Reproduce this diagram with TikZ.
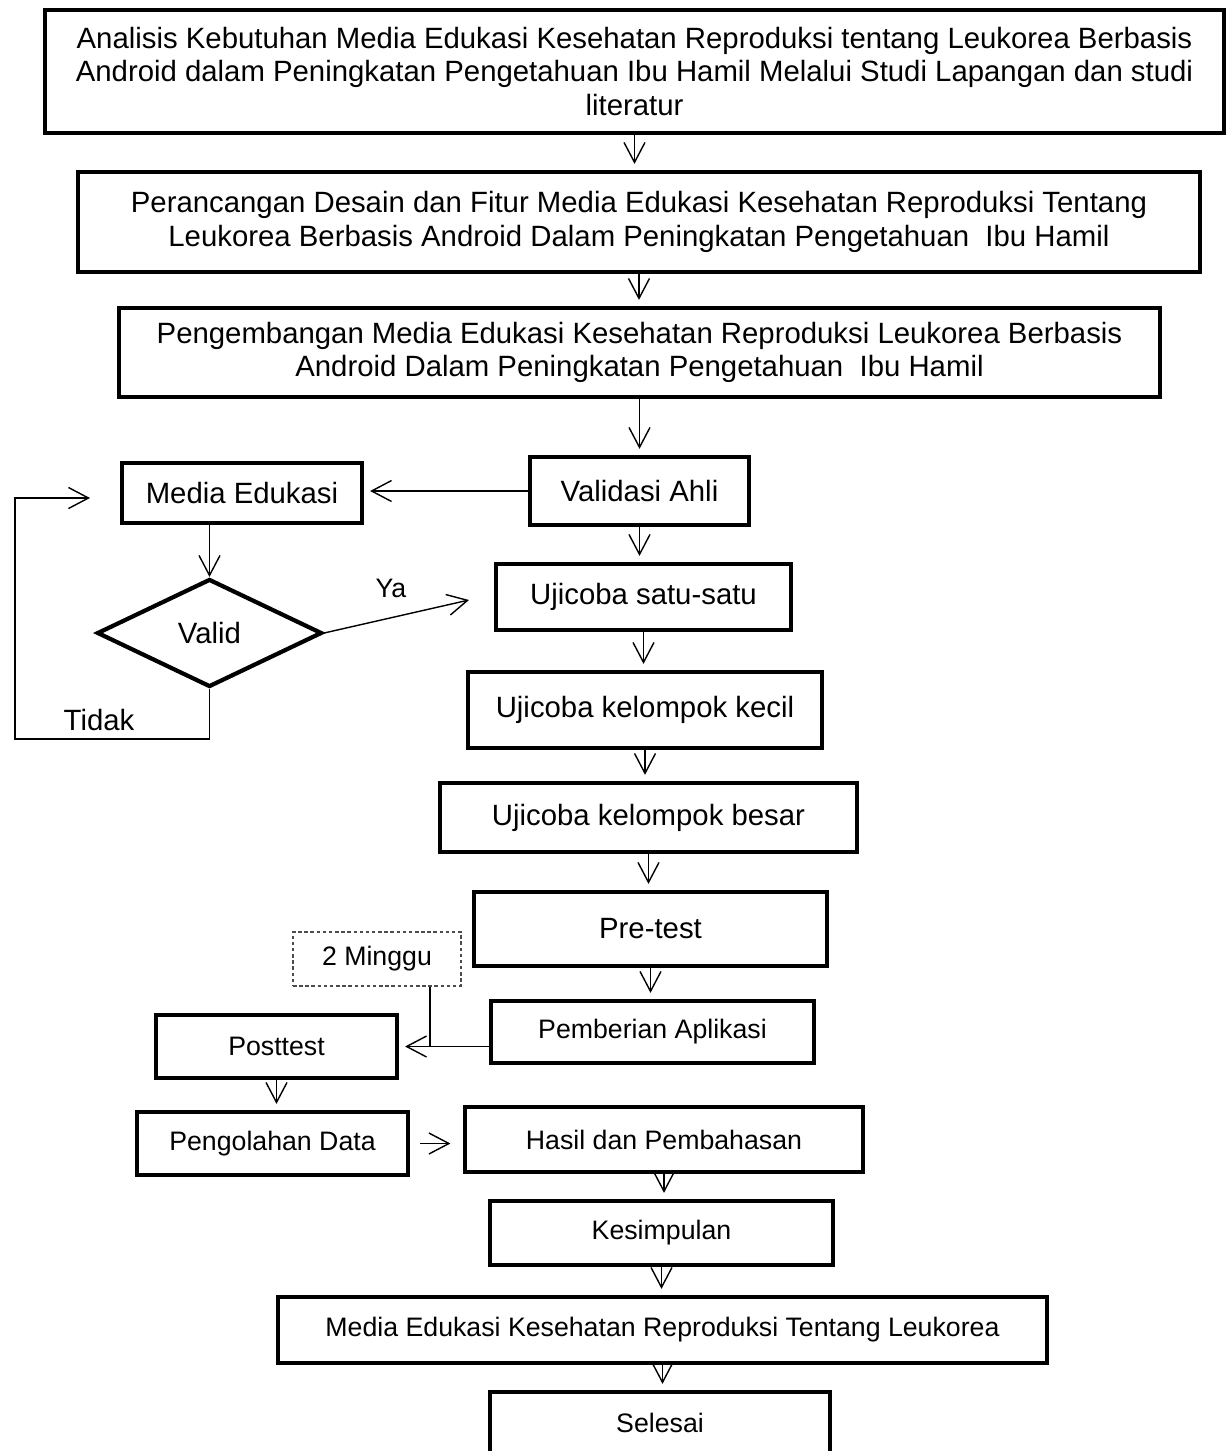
\documentclass[tikz,border=0pt]{standalone}
\usepackage{fontspec}
\setmainfont{Liberation Sans}
\usepackage{tikz}
\usetikzlibrary{arrows.meta,positioning,calc,shapes.geometric}

\begin{document}
\begin{tikzpicture}[x=0.02cm,y=-0.02cm,
  box/.style={draw,line width=2.4pt,align=center,inner sep=0pt,font=\fontsize{16.7}{19.2}\selectfont},
  smallbox/.style={box,font=\fontsize{15.2}{18}\selectfont},
  arr/.style={line width=0.8pt,-{Straight Barb[length=4mm,width=4.2mm]},shorten >=1.2mm}]
\useasboundingbox (0,0) rectangle (1227,1451);
\clip (0,0) rectangle (1227,1451);

% main column
\node[box,minimum width=23.58cm,minimum height=2.46cm] (ana) at (634.5,71.5) {Analisis Kebutuhan Media Edukasi Kesehatan Reproduksi tentang Leukorea Berbasis\\Android dalam Peningkatan Pengetahuan Ibu Hamil Melalui Studi Lapangan dan studi\\literatur};
\node[box,minimum width=22.44cm,minimum height=2.0cm] (desain) at (639,222) {Perancangan Desain dan Fitur Media Edukasi Kesehatan Reproduksi Tentang\\Leukorea Berbasis Android Dalam Peningkatan Pengetahuan \ Ibu Hamil};
\node[box,minimum width=20.82cm,minimum height=1.78cm] (kembang) at (639.5,352.5) {Pengembangan Media Edukasi Kesehatan Reproduksi Leukorea Berbasis\\Android Dalam Peningkatan Pengetahuan \ Ibu Hamil};
\node[box,minimum width=4.38cm,minimum height=1.36cm] (validasi) at (639.5,491) {Validasi Ahli};
\node[box,minimum width=5.9cm,minimum height=1.32cm] (satu) at (643.5,597) {Ujicoba satu-satu};
\node[box,minimum width=7.08cm,minimum height=1.52cm] (kecil) at (645,710) {Ujicoba kelompok kecil};
\node[box,minimum width=8.34cm,minimum height=1.38cm] (besar) at (648.5,817.5) {Ujicoba kelompok besar};
\node[box,minimum width=7.06cm,minimum height=1.48cm] (pre) at (650.5,929) {Pre-test};
\node[smallbox,minimum width=6.46cm,minimum height=1.24cm] (beri) at (652.5,1032) {Pemberian Aplikasi};
\node[smallbox,minimum width=7.96cm,minimum height=1.3cm] (hasil) at (664,1139.5) {Hasil dan Pembahasan};
\node[smallbox,minimum width=6.86cm,minimum height=1.28cm] (simpul) at (661.5,1233) {Kesimpulan};
\node[smallbox,minimum width=15.38cm,minimum height=1.32cm] (produk) at (662.5,1330) {Media Edukasi Kesehatan Reproduksi Tentang Leukorea};
\node[smallbox,minimum width=6.8cm,minimum height=1.24cm] (selesai) at (660,1423) {Selesai};

% left branch
\node[box,minimum width=4.8cm,minimum height=1.2cm] (media) at (242,493) {Media Edukasi};
\node[box,diamond,aspect=2.1,minimum width=4.5cm,minimum height=2.16cm] (valid) at (209.5,633) {Valid};
\node[font=\fontsize{15.2}{18}\selectfont] (ya) at (391,588) {Ya};
\node[font=\fontsize{16.7}{19}\selectfont] (tidak) at (99,720) {Tidak};
\node[draw=black!70,line width=0.6pt,dash pattern=on 2pt off 1.5pt,minimum width=3.36cm,minimum height=1.08cm,inner sep=0pt,font=\fontsize{15.2}{18}\selectfont] (minggu) at (377,959) {2 Minggu};
\node[smallbox,minimum width=4.82cm,minimum height=1.26cm] (post) at (276.5,1046.5) {Posttest};
\node[smallbox,minimum width=5.42cm,minimum height=1.26cm] (olah) at (272.5,1143.5) {Pengolahan Data};

\coordinate (yaend) at (469,600);
\coordinate (tdkend) at (90,498);
\coordinate (mg) at ($(minggu.south)+(53,0)$);

\foreach \a/\b in {ana/desain, desain/kembang, kembang/validasi, validasi/satu, satu/kecil, kecil/besar, besar/pre, pre/beri, post/olah, hasil/simpul, simpul/produk, produk/selesai}
  \draw[arr] (\a.south) -- (\a.south |- \b.north);

\draw[arr] (validasi.west) -- (validasi.west -| media.east);
\draw[arr,shorten >=0pt] (valid.north |- media.south) -- (valid.north);
\draw[arr,shorten >=0pt] (valid.east) -- (yaend);
\draw[arr,shorten >=0pt] (valid.south) -- ++(0,50) -| (15,498) -- (tdkend);
\draw[line width=0.8pt] (mg) -- (mg |- post.east);
\draw[arr] (beri.west |- post.east) -- (post.east);
\draw[arr,shorten <=2mm,shorten >=2.5mm] (olah.east) -- (olah.east -| hasil.west);
\end{tikzpicture}
\end{document}
